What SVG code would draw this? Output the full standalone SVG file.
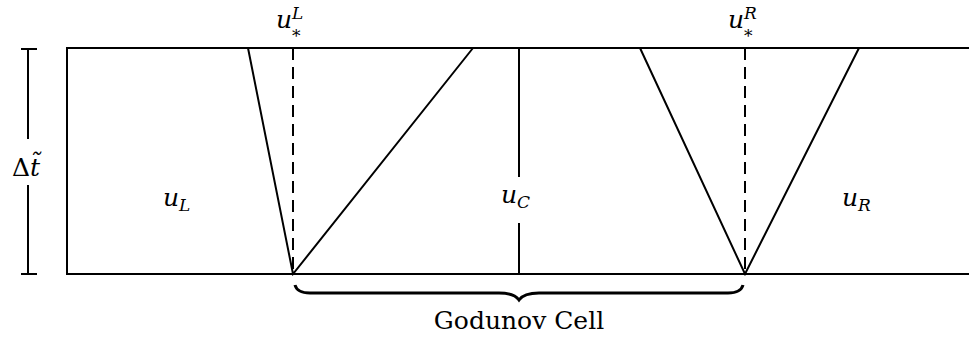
<svg xmlns="http://www.w3.org/2000/svg" width="969" height="340" viewBox="0 0 969 340">
<style>
.ln{stroke:#000;stroke-width:2;fill:none;stroke-linecap:butt}
.dash{stroke:#000;stroke-width:2;fill:none;stroke-dasharray:12,7}
text{font-family:'DejaVu Serif','Liberation Serif',serif;fill:#000}
.m{font-style:italic;font-size:25px}
.s{font-style:italic;font-size:17px}
.r{font-size:25px}
</style>
<rect width="969" height="340" fill="#fff"/>
<g id="domain">
<path class="ln" d="M969,48 H67 V274 H969"/>
</g>
<g id="connectors">
<path class="ln" d="M248,48 L293,274 L473,48"/>
<path class="dash" d="M293,48 V274"/>
<path class="ln" d="M519,48 V177 M519,223 V274"/>
<path class="ln" d="M640,48 L745,274 L859,48"/>
<path class="dash" d="M745,48 V274"/>
</g>
<g id="timebar">
<path class="ln" d="M21,49 H37 M28,49 V139 M28,185 V274 M21,274 H37"/>
<text class="r" x="12" y="176">Δ<tspan font-style="italic">t̃</tspan></text>
</g>
<g id="uL"><text class="m" x="163" y="206">u<tspan class="s" dy="5">L</tspan></text></g>
<g id="uC"><text class="m" x="501" y="203">u<tspan class="s" dy="5">C</tspan></text></g>
<g id="uR"><text class="m" x="842" y="206">u<tspan class="s" dy="5">R</tspan></text></g>
<g id="uLstar"><text class="m" x="276" y="28">u</text><text class="s" x="292" y="19">L</text><text class="s" x="292" y="42">*</text></g>
<g id="uRstar"><text class="m" x="728" y="28">u</text><text class="s" x="744" y="19">R</text><text class="s" x="744" y="42">*</text></g>
<g id="brace">
<path d="M295,285 Q297,293 310,293 H499 Q514,293 519,300 Q524,293 539,293 H728 Q741,293 743,285" stroke="#000" stroke-width="3" fill="none"/>
<text class="r" x="519" y="329" text-anchor="middle">Godunov Cell</text>
</g>
</svg>
